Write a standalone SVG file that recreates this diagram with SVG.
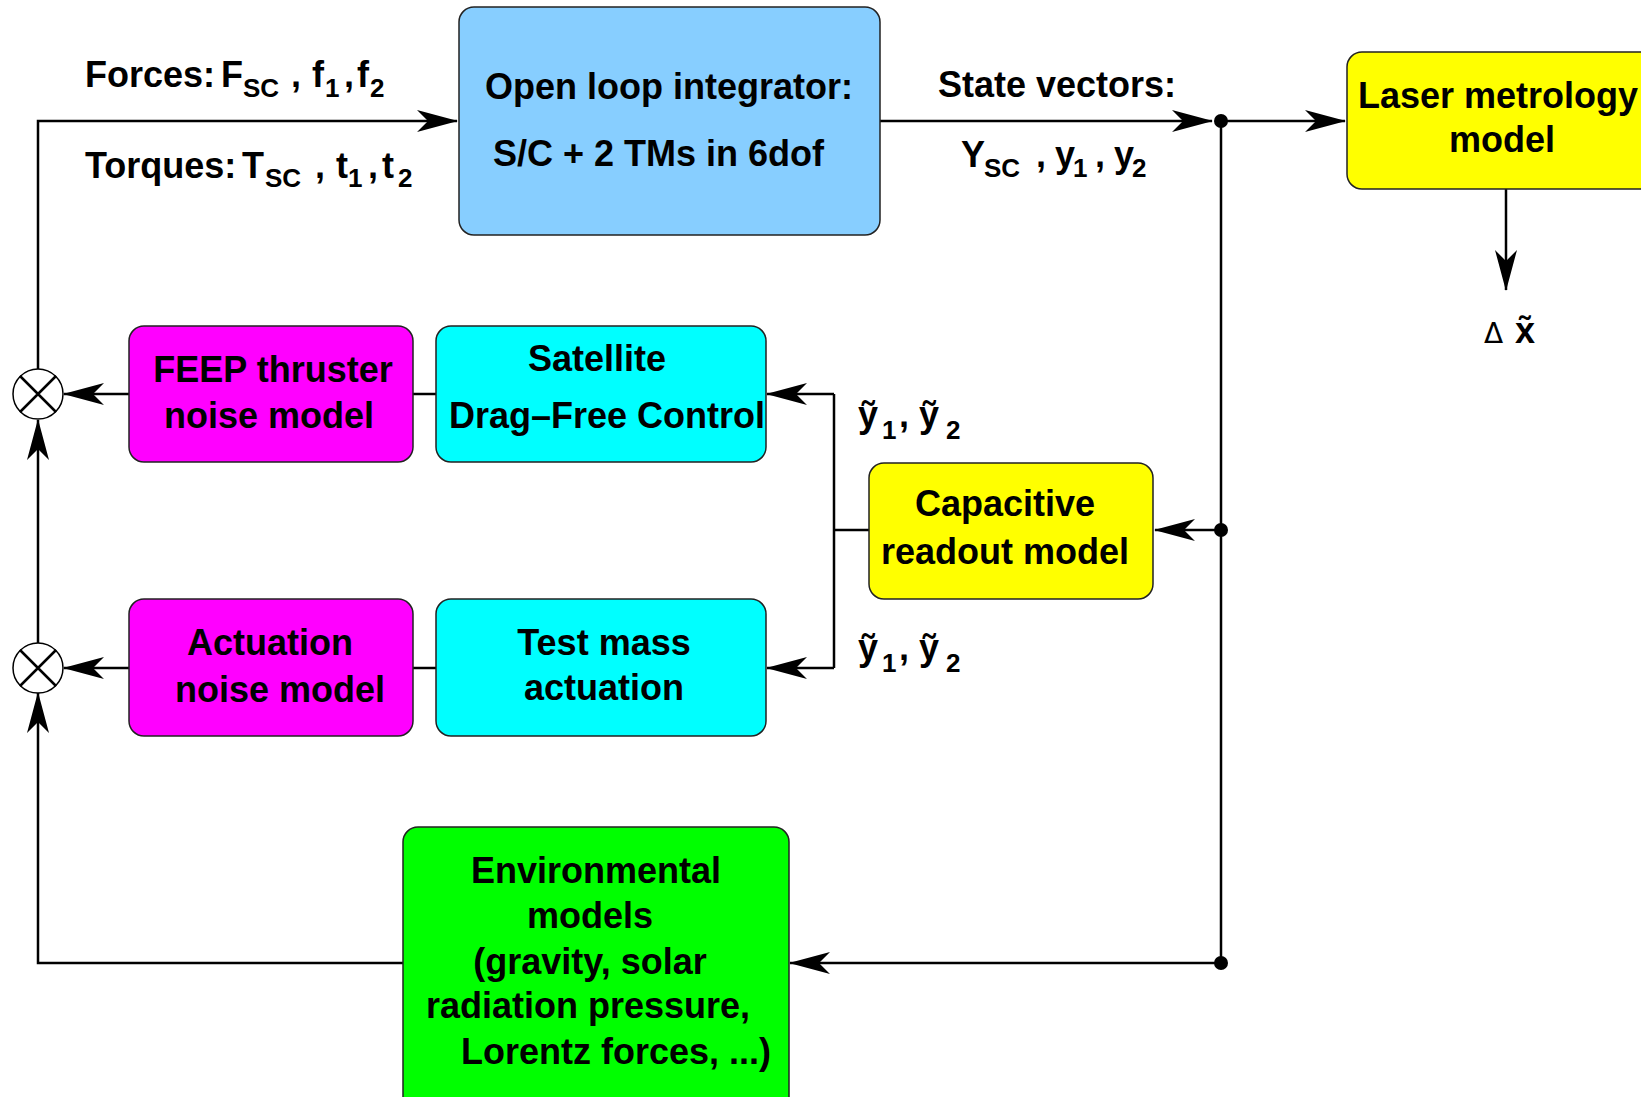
<svg xmlns="http://www.w3.org/2000/svg" xmlns:xlink="http://www.w3.org/1999/xlink" width="1641" height="1097" viewBox="0 0 1641 1097">
<style>
.box{stroke:#222;stroke-width:1.5}
.t{font-family:"Liberation Sans",Arial,sans-serif;font-weight:bold;font-size:36px;fill:#000}
.sub{font-size:26px}
.c{fill:none;stroke:#000;stroke-width:2.5}
.dot{fill:#000}
</style>
<defs>
<marker id="arr" viewBox="-42 -13 44 26" refX="0" refY="0" markerWidth="44" markerHeight="26" orient="auto" markerUnits="userSpaceOnUse">
<path d="M1,0 L-40,-11 L-29,0 L-40,11 Z" fill="#000"/>
</marker>
</defs>
<rect width="1641" height="1097" fill="#fff"/>

<g id="connectors">
<polyline class="c" points="403,963 38,963 38,693" marker-end="url(#arr)"/>
<line class="c" x1="38" y1="643" x2="38" y2="420" marker-end="url(#arr)"/>
<polyline class="c" points="38,369 38,121 457,121" marker-end="url(#arr)"/>
<line class="c" x1="880" y1="121" x2="1212" y2="121" marker-end="url(#arr)"/>
<line class="c" x1="1221" y1="121" x2="1345" y2="121" marker-end="url(#arr)"/>
<line class="c" x1="1506" y1="189" x2="1506" y2="290" marker-end="url(#arr)"/>
<line class="c" x1="1221" y1="121" x2="1221" y2="963"/>
<line class="c" x1="1221" y1="530" x2="1155" y2="530" marker-end="url(#arr)"/>
<line class="c" x1="1221" y1="963" x2="790" y2="963" marker-end="url(#arr)"/>
<line class="c" x1="869" y1="530" x2="834" y2="530"/>
<polyline class="c" points="834,394 834,668"/>
<line class="c" x1="834" y1="394" x2="767" y2="394" marker-end="url(#arr)"/>
<line class="c" x1="834" y1="668" x2="767" y2="668" marker-end="url(#arr)"/>
<line class="c" x1="436" y1="394" x2="413" y2="394"/>
<line class="c" x1="436" y1="668" x2="413" y2="668"/>
<line class="c" x1="129" y1="394" x2="64" y2="394" marker-end="url(#arr)"/>
<line class="c" x1="129" y1="668" x2="64" y2="668" marker-end="url(#arr)"/>
<circle class="dot" cx="1221" cy="121" r="7"/>
<circle class="dot" cx="1221" cy="530" r="7"/>
<circle class="dot" cx="1221" cy="963" r="7"/>
</g>

<g id="sum1">
<circle cx="38" cy="394" r="25" fill="#fff" stroke="#000" stroke-width="1.5"/>
<path d="M20,376 L56,412 M56,376 L20,412" stroke="#000" stroke-width="2.5"/>
</g>
<g id="sum2">
<circle cx="38" cy="668" r="25" fill="#fff" stroke="#000" stroke-width="1.5"/>
<path d="M20,650 L56,686 M56,650 L20,686" stroke="#000" stroke-width="2.5"/>
</g>

<g id="integrator">
<rect class="box" x="459" y="7" width="421" height="228" rx="15" fill="#87CEFF"/>
<text class="t" x="485" y="99">Open loop integrator:</text>
<text class="t" x="493" y="166">S/C + 2 TMs in 6dof</text>
</g>

<g id="laser">
<rect class="box" x="1347" y="52" width="330" height="137" rx="15" fill="#FFFF00"/>
<text class="t" x="1358" y="108">Laser metrology</text>
<text class="t" x="1502" y="152" text-anchor="middle">model</text>
</g>

<g id="feep">
<rect class="box" x="129" y="326" width="284" height="136" rx="15" fill="#FF00FF"/>
<text class="t" x="273" y="382" text-anchor="middle">FEEP thruster</text>
<text class="t" x="269" y="428" text-anchor="middle">noise model</text>
</g>

<g id="dfc">
<rect class="box" x="436" y="326" width="330" height="136" rx="15" fill="#00FFFF"/>
<text class="t" x="597" y="371" text-anchor="middle">Satellite</text>
<text class="t" x="449" y="428">Drag–Free Control</text>
</g>

<g id="actnoise">
<rect class="box" x="129" y="599" width="284" height="137" rx="15" fill="#FF00FF"/>
<text class="t" x="270" y="655" text-anchor="middle">Actuation</text>
<text class="t" x="280" y="702" text-anchor="middle">noise model</text>
</g>

<g id="tmact">
<rect class="box" x="436" y="599" width="330" height="137" rx="15" fill="#00FFFF"/>
<text class="t" x="604" y="655" text-anchor="middle">Test mass</text>
<text class="t" x="604" y="700" text-anchor="middle">actuation</text>
</g>

<g id="capacitive">
<rect class="box" x="869" y="463" width="284" height="136" rx="15" fill="#FFFF00"/>
<text class="t" x="1005" y="516" text-anchor="middle">Capacitive</text>
<text class="t" x="1005" y="564" text-anchor="middle">readout model</text>
</g>

<g id="environment">
<rect class="box" x="403" y="827" width="386" height="300" rx="15" fill="#00FF00"/>
<text class="t" x="596" y="883" text-anchor="middle">Environmental</text>
<text class="t" x="590" y="928" text-anchor="middle">models</text>
<text class="t" x="590" y="974" text-anchor="middle">(gravity, solar</text>
<text class="t" x="588" y="1018" text-anchor="middle">radiation pressure,</text>
<text class="t" x="616" y="1064" text-anchor="middle">Lorentz forces, ...)</text>
</g>

<g id="labels">
<text class="t" y="87"><tspan x="85">Forces:</tspan><tspan x="221">F</tspan><tspan x="243" dy="10" class="sub">SC</tspan><tspan x="291" dy="-10">,</tspan><tspan x="312">f</tspan><tspan x="325" dy="10" class="sub">1</tspan><tspan x="344" dy="-10">,</tspan><tspan x="357">f</tspan><tspan x="370" dy="10" class="sub">2</tspan></text>
<text class="t" y="178"><tspan x="85">Torques:</tspan><tspan x="242">T</tspan><tspan x="265" dy="9" class="sub">SC</tspan><tspan x="315" dy="-9">,</tspan><tspan x="336">t</tspan><tspan x="348" dy="9" class="sub">1</tspan><tspan x="368" dy="-9">,</tspan><tspan x="382">t</tspan><tspan x="398" dy="9" class="sub">2</tspan></text>
<text class="t" x="938" y="97">State vectors:</text>
<text class="t" y="167"><tspan x="961">Y</tspan><tspan x="984" dy="10" class="sub">SC</tspan><tspan x="1036" dy="-10">,</tspan><tspan x="1055">y</tspan><tspan x="1073" dy="10" class="sub">1</tspan><tspan x="1095" dy="-10">,</tspan><tspan x="1114">y</tspan><tspan x="1132" dy="10" class="sub">2</tspan></text>
<text class="t" y="427"><tspan x="858">ỹ</tspan><tspan x="882" dy="12" class="sub">1</tspan><tspan x="899" dy="-12">, ỹ</tspan><tspan x="946" dy="12" class="sub">2</tspan></text>
<text class="t" y="660"><tspan x="858">ỹ</tspan><tspan x="882" dy="12" class="sub">1</tspan><tspan x="899" dy="-12">, ỹ</tspan><tspan x="946" dy="12" class="sub">2</tspan></text>
<text x="1484" y="343" style="font-family:'DejaVu Sans',sans-serif;font-size:28px">Δ</text>
<text class="t" x="1515" y="343">x̃</text>
</g>
</svg>
